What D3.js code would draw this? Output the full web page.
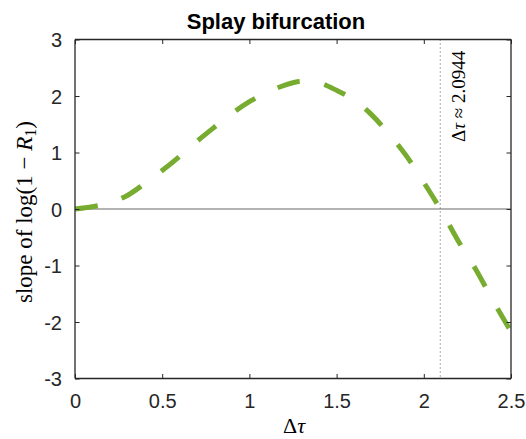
<!DOCTYPE html>
<html>
<head>
<meta charset="utf-8">
<script src="https://cdn.jsdelivr.net/npm/d3@7"></script>
<style>
  html, body { margin: 0; padding: 0; background: #fff; }
  svg { display: block; }
</style>
</head>
<body>
<div id="chart"></div>
<script>
// Growth rate of log(1 - R1) across the splay bifurcation
const dtau = [0, 0.1, 0.2, 0.3, 0.4, 0.5, 0.6, 0.7, 0.8, 0.9, 1.0, 1.1, 1.2, 1.3, 1.4,
              1.5, 1.6, 1.7, 1.8, 1.9, 2.0, 2.0944, 2.2, 2.3, 2.4, 2.5];
const slope = [0, 0.04, 0.11, 0.24, 0.45, 0.68, 0.93, 1.2, 1.45, 1.69, 1.9, 2.06, 2.19, 2.26, 2.23,
               2.10, 1.93, 1.67, 1.33, 0.94, 0.47, 0, -0.58, -1.08, -1.64, -2.17];
const xTicks = [0, 0.5, 1, 1.5, 2, 2.5];
const yTicks = [-3, -2, -1, 0, 1, 2, 3];
const bifurcation = 2.0944;

const W = 526, H = 439;
const m = { left: 75, right: 15, top: 39.5, bottom: 60.5 };

const svg = d3.select("#chart").append("svg")
  .attr("width", W).attr("height", H);

const x = d3.scaleLinear().domain([0, 2.5]).range([m.left, W - m.right]);
const y = d3.scaleLinear().domain([-3, 3]).range([H - m.bottom, m.top]);

const axisColor = "#262626";
const sans = "'Liberation Sans', Arial, Helvetica, sans-serif";
const serif = "'Liberation Serif', 'Times New Roman', serif";

// clip region for the data
svg.append("clipPath").attr("id", "plot")
  .append("rect")
  .attr("x", x(0)).attr("y", y(3))
  .attr("width", x(2.5) - x(0)).attr("height", y(-3) - y(3));

const plot = svg.append("g").attr("clip-path", "url(#plot)");

// zero reference line
plot.append("line")
  .attr("x1", x(0)).attr("x2", x(2.5))
  .attr("y1", y(0)).attr("y2", y(0))
  .attr("stroke", "#9a9a9a").attr("stroke-width", 1.5);

// bifurcation marker
plot.append("line")
  .attr("x1", x(bifurcation)).attr("x2", x(bifurcation))
  .attr("y1", y(3)).attr("y2", y(-3))
  .attr("stroke", "#555").attr("stroke-width", 1)
  .attr("stroke-dasharray", "1,3");

// slope curve
const line = d3.line()
  .x((d, i) => x(dtau[i]))
  .y(d => y(d))
  .curve(d3.curveMonotoneX);

plot.append("path")
  .datum(slope)
  .attr("d", line)
  .attr("fill", "none")
  .attr("stroke", "#77ac30")
  .attr("stroke-width", 5)
  .attr("stroke-dasharray", "23,25");

// axes: ticks point inward, box on all sides
const tickLen = 4.5;
const plain = d => String(d);
const gBottom = svg.append("g").attr("transform", `translate(0,${y(-3)})`)
  .call(d3.axisBottom(x).tickValues(xTicks).tickSize(-tickLen).tickPadding(15)
    .tickFormat(plain));
const gTop = svg.append("g").attr("transform", `translate(0,${y(3)})`)
  .call(d3.axisTop(x).tickValues(xTicks).tickSize(-tickLen).tickFormat(""));
const gLeft = svg.append("g").attr("transform", `translate(${x(0)},0)`)
  .call(d3.axisLeft(y).tickValues(yTicks).tickSize(-tickLen).tickPadding(13)
    .tickFormat(plain));
const gRight = svg.append("g").attr("transform", `translate(${x(2.5)},0)`)
  .call(d3.axisRight(y).tickValues(yTicks).tickSize(-tickLen).tickFormat(""));

[gBottom, gTop, gLeft, gRight].forEach(g => {
  g.select(".domain").attr("stroke", axisColor).attr("stroke-width", 1.3);
  g.selectAll(".tick line").attr("stroke", axisColor).attr("stroke-width", 1);
  g.selectAll("text").attr("font-family", sans).attr("font-size", 20).attr("fill", axisColor);
});
// plain box edges without outer tick stubs
[gBottom, gTop].forEach(g => g.select(".domain")
  .attr("d", `M${x(0)},0H${x(2.5)}`));
[gLeft, gRight].forEach(g => g.select(".domain")
  .attr("d", `M0,${y(3)}V${y(-3)}`));
gLeft.selectAll(".tick text").attr("dy", "0.36em");

// title
svg.append("text")
  .attr("x", 276).attr("y", 29)
  .attr("text-anchor", "middle")
  .attr("font-family", sans).attr("font-weight", "bold").attr("font-size", 22)
  .attr("fill", "#000")
  .text("Splay bifurcation");

// x label
const xl = svg.append("text")
  .attr("x", 294).attr("y", 433)
  .attr("text-anchor", "middle")
  .attr("font-family", serif).attr("font-size", 22).attr("fill", "#000");
xl.append("tspan").text("Δ");
xl.append("tspan").attr("font-style", "italic").text("τ");

// y label
const yl = svg.append("text")
  .attr("transform", "translate(32,212) rotate(-90)")
  .attr("text-anchor", "middle")
  .attr("font-family", serif).attr("font-size", 23).attr("fill", "#000");
yl.append("tspan").text("slope of log(1 − ");
yl.append("tspan").attr("font-style", "italic").text("R");
yl.append("tspan").attr("font-size", 16).attr("dy", 4).text("1");
yl.append("tspan").attr("dy", -4).text(")");

// bifurcation annotation
const an = svg.append("text")
  .attr("transform", `translate(465,142) rotate(-90)`)
  .attr("text-anchor", "start")
  .attr("font-family", serif).attr("font-size", 19).attr("fill", "#000");
an.append("tspan").text("Δ");
an.append("tspan").attr("font-style", "italic").text("τ");
an.append("tspan").text(" ≈ 2.0944");
</script>
</body>
</html>
